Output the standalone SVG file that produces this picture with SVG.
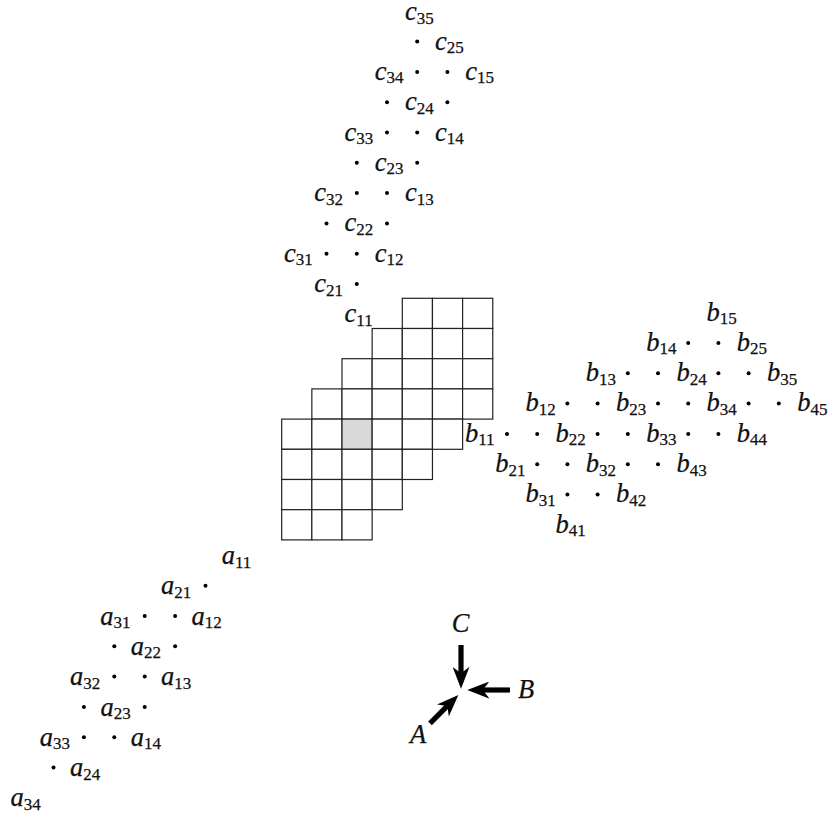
<svg xmlns="http://www.w3.org/2000/svg" width="830" height="814" viewBox="0 0 830 814" font-family="Liberation Serif, Times New Roman, serif">
<style>
  text { font-family: 'Liberation Serif', 'Times New Roman', serif; fill: #111; stroke: #111; stroke-width: 0.25; }
  .v { font-style: italic; font-size: 26.5px; }
  .s { font-size: 17px; font-style: normal; }
  .cell { fill: #fff; stroke: #222; stroke-width: 1.2; }
  .shade { fill: #d9d9d9; }
  .dot { fill: #000; }
  .arr { stroke: #000; stroke-width: 5.2; fill: none; marker-end: url(#stealth); }
</style>
<defs>
  <marker id="stealth" markerUnits="userSpaceOnUse" viewBox="0 -8.5 22 17" markerWidth="22" markerHeight="17" refX="6.5" refY="0" orient="auto">
    <path d="M0,-8.5 L22,0 L0,8.5 L6.5,0 Z" fill="#000"/>
  </marker>
</defs>

<rect width="830" height="814" fill="#fff"/>

<!-- grid -->
<g id="array">
  <rect class="cell" x="402.3" y="298.3" width="30.15" height="30.2"/>
  <rect class="cell" x="432.45" y="298.3" width="30.15" height="30.2"/>
  <rect class="cell" x="462.6" y="298.3" width="30.15" height="30.2"/>

  <rect class="cell" x="372.15" y="328.5" width="30.15" height="30.2"/>
  <rect class="cell" x="402.3" y="328.5" width="30.15" height="30.2"/>
  <rect class="cell" x="432.45" y="328.5" width="30.15" height="30.2"/>
  <rect class="cell" x="462.6" y="328.5" width="30.15" height="30.2"/>

  <rect class="cell" x="342" y="358.7" width="30.15" height="30.2"/>
  <rect class="cell" x="372.15" y="358.7" width="30.15" height="30.2"/>
  <rect class="cell" x="402.3" y="358.7" width="30.15" height="30.2"/>
  <rect class="cell" x="432.45" y="358.7" width="30.15" height="30.2"/>
  <rect class="cell" x="462.6" y="358.7" width="30.15" height="30.2"/>

  <rect class="cell" x="311.85" y="388.9" width="30.15" height="30.2"/>
  <rect class="cell" x="342" y="388.9" width="30.15" height="30.2"/>
  <rect class="cell" x="372.15" y="388.9" width="30.15" height="30.2"/>
  <rect class="cell" x="402.3" y="388.9" width="30.15" height="30.2"/>
  <rect class="cell" x="432.45" y="388.9" width="30.15" height="30.2"/>
  <rect class="cell" x="462.6" y="388.9" width="30.15" height="30.2"/>

  <rect class="cell" x="281.7" y="419.1" width="30.15" height="30.2"/>
  <rect class="cell" x="311.85" y="419.1" width="30.15" height="30.2"/>
  <rect class="cell shade" x="342" y="419.1" width="30.15" height="30.2"/>
  <rect class="cell" x="372.15" y="419.1" width="30.15" height="30.2"/>
  <rect class="cell" x="402.3" y="419.1" width="30.15" height="30.2"/>
  <rect class="cell" x="432.45" y="419.1" width="30.15" height="30.2"/>

  <rect class="cell" x="281.7" y="449.3" width="30.15" height="30.2"/>
  <rect class="cell" x="311.85" y="449.3" width="30.15" height="30.2"/>
  <rect class="cell" x="342" y="449.3" width="30.15" height="30.2"/>
  <rect class="cell" x="372.15" y="449.3" width="30.15" height="30.2"/>
  <rect class="cell" x="402.3" y="449.3" width="30.15" height="30.2"/>

  <rect class="cell" x="281.7" y="479.5" width="30.15" height="30.2"/>
  <rect class="cell" x="311.85" y="479.5" width="30.15" height="30.2"/>
  <rect class="cell" x="342" y="479.5" width="30.15" height="30.2"/>
  <rect class="cell" x="372.15" y="479.5" width="30.15" height="30.2"/>

  <rect class="cell" x="281.7" y="509.7" width="30.15" height="30.2"/>
  <rect class="cell" x="311.85" y="509.7" width="30.15" height="30.2"/>
  <rect class="cell" x="342" y="509.7" width="30.15" height="30.2"/>
</g>

<!-- C matrix -->
<g id="matrix-c">
  <g id="c35"><text x="404.9" y="20.3"><tspan class="v">c</tspan><tspan class="s" dy="3.5">35</tspan></text></g>
  <g id="c25"><text x="435.1" y="49.6"><tspan class="v">c</tspan><tspan class="s" dy="3.5">25</tspan></text></g>
  <g id="c34"><text x="374.7" y="79.9"><tspan class="v">c</tspan><tspan class="s" dy="3.5">34</tspan></text></g>
  <g id="c15"><text x="465.3" y="79.9"><tspan class="v">c</tspan><tspan class="s" dy="3.5">15</tspan></text></g>
  <g id="c24"><text x="404.9" y="110.2"><tspan class="v">c</tspan><tspan class="s" dy="3.5">24</tspan></text></g>
  <g id="c33"><text x="344.5" y="140.5"><tspan class="v">c</tspan><tspan class="s" dy="3.5">33</tspan></text></g>
  <g id="c14"><text x="435.1" y="140.5"><tspan class="v">c</tspan><tspan class="s" dy="3.5">14</tspan></text></g>
  <g id="c23"><text x="374.7" y="170.8"><tspan class="v">c</tspan><tspan class="s" dy="3.5">23</tspan></text></g>
  <g id="c32"><text x="314.3" y="201.1"><tspan class="v">c</tspan><tspan class="s" dy="3.5">32</tspan></text></g>
  <g id="c13"><text x="404.9" y="201.1"><tspan class="v">c</tspan><tspan class="s" dy="3.5">13</tspan></text></g>
  <g id="c22"><text x="344.5" y="231.4"><tspan class="v">c</tspan><tspan class="s" dy="3.5">22</tspan></text></g>
  <g id="c31"><text x="284.1" y="261.7"><tspan class="v">c</tspan><tspan class="s" dy="3.5">31</tspan></text></g>
  <g id="c12"><text x="374.7" y="261.7"><tspan class="v">c</tspan><tspan class="s" dy="3.5">12</tspan></text></g>
  <g id="c21"><text x="314.3" y="292.0"><tspan class="v">c</tspan><tspan class="s" dy="3.5">21</tspan></text></g>
  <g id="c11"><text x="344.5" y="322.3"><tspan class="v">c</tspan><tspan class="s" dy="3.5">11</tspan></text></g>
  <g id="c-dots" class="dot">
    <circle cx="417.2" cy="41.6" r="2"/>
    <circle cx="417.2" cy="71.9" r="2"/><circle cx="447.4" cy="71.9" r="2"/>
    <circle cx="387" cy="102.2" r="2"/><circle cx="447.4" cy="102.2" r="2"/>
    <circle cx="387" cy="132.5" r="2"/><circle cx="417.2" cy="132.5" r="2"/>
    <circle cx="356.8" cy="162.8" r="2"/><circle cx="417.2" cy="162.8" r="2"/>
    <circle cx="356.8" cy="193.1" r="2"/><circle cx="387" cy="193.1" r="2"/>
    <circle cx="326.5" cy="223.4" r="2"/><circle cx="387" cy="223.4" r="2"/>
    <circle cx="326.5" cy="253.7" r="2"/><circle cx="356.8" cy="253.7" r="2"/>
    <circle cx="356.8" cy="284.0" r="2"/>
  </g>
</g>

<!-- B matrix -->
<g id="matrix-b">
  <g id="b15"><text x="706.6" y="320.5"><tspan class="v">b</tspan><tspan class="s" dy="3.5">15</tspan></text></g>
  <g id="b14"><text x="646.2" y="350.8"><tspan class="v">b</tspan><tspan class="s" dy="3.5">14</tspan></text></g>
  <g id="b25"><text x="736.8" y="350.8"><tspan class="v">b</tspan><tspan class="s" dy="3.5">25</tspan></text></g>
  <g id="b13"><text x="585.8" y="381.1"><tspan class="v">b</tspan><tspan class="s" dy="3.5">13</tspan></text></g>
  <g id="b24"><text x="676.4" y="381.1"><tspan class="v">b</tspan><tspan class="s" dy="3.5">24</tspan></text></g>
  <g id="b35"><text x="767.0" y="381.1"><tspan class="v">b</tspan><tspan class="s" dy="3.5">35</tspan></text></g>
  <g id="b12"><text x="525.4" y="411.4"><tspan class="v">b</tspan><tspan class="s" dy="3.5">12</tspan></text></g>
  <g id="b23"><text x="616.0" y="411.4"><tspan class="v">b</tspan><tspan class="s" dy="3.5">23</tspan></text></g>
  <g id="b34"><text x="706.6" y="411.4"><tspan class="v">b</tspan><tspan class="s" dy="3.5">34</tspan></text></g>
  <g id="b45"><text x="797.2" y="411.4"><tspan class="v">b</tspan><tspan class="s" dy="3.5">45</tspan></text></g>
  <g id="b11"><text x="465.0" y="441.7"><tspan class="v">b</tspan><tspan class="s" dy="3.5">11</tspan></text></g>
  <g id="b22"><text x="555.6" y="441.7"><tspan class="v">b</tspan><tspan class="s" dy="3.5">22</tspan></text></g>
  <g id="b33"><text x="646.2" y="441.7"><tspan class="v">b</tspan><tspan class="s" dy="3.5">33</tspan></text></g>
  <g id="b44"><text x="736.8" y="441.7"><tspan class="v">b</tspan><tspan class="s" dy="3.5">44</tspan></text></g>
  <g id="b21"><text x="495.2" y="472.0"><tspan class="v">b</tspan><tspan class="s" dy="3.5">21</tspan></text></g>
  <g id="b32"><text x="585.8" y="472.0"><tspan class="v">b</tspan><tspan class="s" dy="3.5">32</tspan></text></g>
  <g id="b43"><text x="676.4" y="472.0"><tspan class="v">b</tspan><tspan class="s" dy="3.5">43</tspan></text></g>
  <g id="b31"><text x="525.4" y="502.3"><tspan class="v">b</tspan><tspan class="s" dy="3.5">31</tspan></text></g>
  <g id="b42"><text x="616.0" y="502.3"><tspan class="v">b</tspan><tspan class="s" dy="3.5">42</tspan></text></g>
  <g id="b41"><text x="555.6" y="532.6"><tspan class="v">b</tspan><tspan class="s" dy="3.5">41</tspan></text></g>
  <g id="b-dots" class="dot">
    <circle cx="688.2" cy="343.0" r="2"/><circle cx="718.4" cy="343.0" r="2"/>
    <circle cx="627.8" cy="373.3" r="2"/><circle cx="658" cy="373.3" r="2"/><circle cx="718.4" cy="373.3" r="2"/><circle cx="748.6" cy="373.3" r="2"/>
    <circle cx="567.4" cy="403.6" r="2"/><circle cx="597.6" cy="403.6" r="2"/><circle cx="658" cy="403.6" r="2"/><circle cx="688.2" cy="403.6" r="2"/><circle cx="748.6" cy="403.6" r="2"/><circle cx="778.8" cy="403.6" r="2"/>
    <circle cx="507" cy="433.9" r="2"/><circle cx="537.2" cy="433.9" r="2"/><circle cx="597.6" cy="433.9" r="2"/><circle cx="627.8" cy="433.9" r="2"/><circle cx="688.2" cy="433.9" r="2"/><circle cx="718.4" cy="433.9" r="2"/>
    <circle cx="537.2" cy="464.2" r="2"/><circle cx="567.4" cy="464.2" r="2"/><circle cx="627.8" cy="464.2" r="2"/><circle cx="658" cy="464.2" r="2"/>
    <circle cx="567.4" cy="494.5" r="2"/><circle cx="597.6" cy="494.5" r="2"/>
  </g>
</g>

<!-- A matrix -->
<g id="matrix-a">
  <g id="a11"><text x="221.7" y="564.0"><tspan class="v">a</tspan><tspan class="s" dy="3.5">11</tspan></text></g>
  <g id="a21"><text x="161.0" y="594.3"><tspan class="v">a</tspan><tspan class="s" dy="3.5">21</tspan></text></g>
  <g id="a31"><text x="100.3" y="624.6"><tspan class="v">a</tspan><tspan class="s" dy="3.5">31</tspan></text></g>
  <g id="a12"><text x="191.4" y="624.6"><tspan class="v">a</tspan><tspan class="s" dy="3.5">12</tspan></text></g>
  <g id="a22"><text x="130.7" y="654.9"><tspan class="v">a</tspan><tspan class="s" dy="3.5">22</tspan></text></g>
  <g id="a32"><text x="70.0" y="685.2"><tspan class="v">a</tspan><tspan class="s" dy="3.5">32</tspan></text></g>
  <g id="a13"><text x="161.1" y="685.2"><tspan class="v">a</tspan><tspan class="s" dy="3.5">13</tspan></text></g>
  <g id="a23"><text x="100.4" y="715.5"><tspan class="v">a</tspan><tspan class="s" dy="3.5">23</tspan></text></g>
  <g id="a33"><text x="39.7" y="745.8"><tspan class="v">a</tspan><tspan class="s" dy="3.5">33</tspan></text></g>
  <g id="a14"><text x="130.8" y="745.8"><tspan class="v">a</tspan><tspan class="s" dy="3.5">14</tspan></text></g>
  <g id="a24"><text x="70.1" y="776.1"><tspan class="v">a</tspan><tspan class="s" dy="3.5">24</tspan></text></g>
  <g id="a34"><text x="10.5" y="806.4"><tspan class="v">a</tspan><tspan class="s" dy="3.5">34</tspan></text></g>
  <g id="a-dots" class="dot">
    <circle cx="205.5" cy="585.7" r="2"/>
    <circle cx="144.7" cy="616.0" r="2"/><circle cx="175.1" cy="616.0" r="2"/>
    <circle cx="114.3" cy="646.3" r="2"/><circle cx="175.1" cy="646.3" r="2"/>
    <circle cx="114.3" cy="676.6" r="2"/><circle cx="144.7" cy="676.6" r="2"/>
    <circle cx="83.9" cy="706.9" r="2"/><circle cx="144.7" cy="706.9" r="2"/>
    <circle cx="83.9" cy="737.2" r="2"/><circle cx="114.3" cy="737.2" r="2"/>
    <circle cx="53.5" cy="767.5" r="2"/>
  </g>
</g>

<!-- direction arrows -->
<g id="connectors">
  <line class="arr" x1="461" y1="645" x2="461" y2="673.3"/>
  <line class="arr" x1="510" y1="690" x2="482.8" y2="690"/>
  <line class="arr" x1="430" y1="723.3" x2="447.4" y2="705.9"/>
</g>
<g id="label-C"><text class="v" x="451.7" y="631.5">C</text></g>
<g id="label-B"><text class="v" x="518" y="698">B</text></g>
<g id="label-A"><text class="v" x="410" y="743">A</text></g>
</svg>
